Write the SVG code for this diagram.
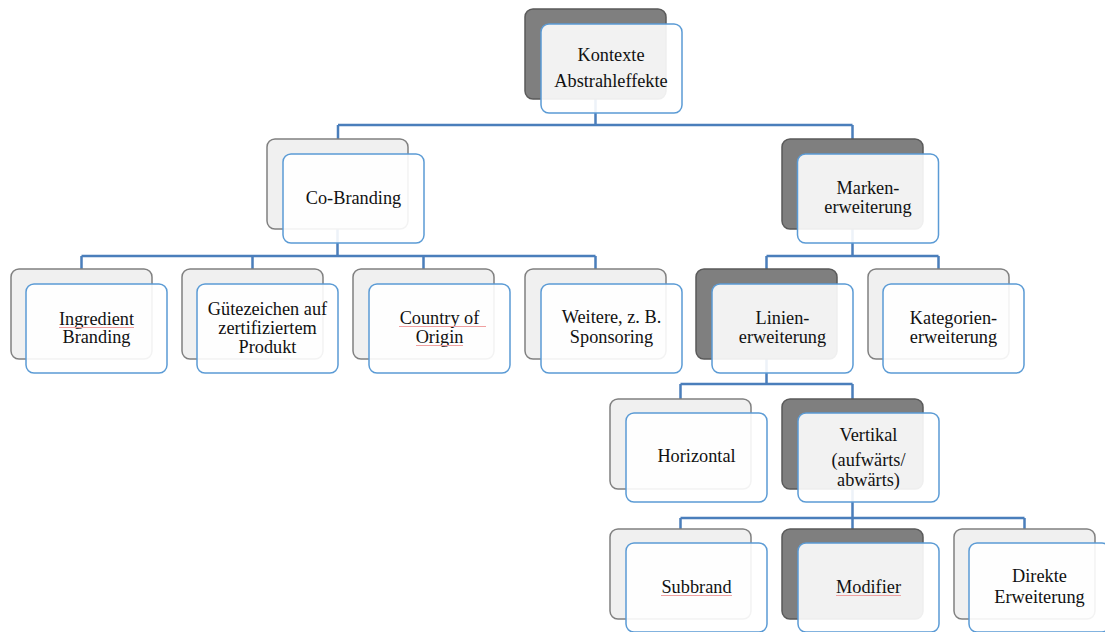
<svg xmlns="http://www.w3.org/2000/svg" width="1105" height="632" viewBox="0 0 1105 632">
  <style>
    .back-light { fill: #f0f0f0; stroke: #808080; stroke-width: 1.5; }
    .back-dark { fill: #7f7f7f; stroke: #5a5a5a; stroke-width: 1.5; }
    .front { fill: #ffffff; fill-opacity: 0.9; stroke: #5b9bd5; stroke-width: 1.5; }
    .conn { fill: none; stroke: #4a7ebb; stroke-width: 2.5; stroke-linejoin: miter; }
    .lbl { font-family: "Liberation Serif", "Times New Roman", serif; font-size: 18.3px; fill: #111111; text-anchor: middle; }
    .spell { stroke: #f0a0a0; stroke-width: 1; fill: none; }
  </style>
  <rect width="1105" height="632" fill="#ffffff"/>

  <!-- connectors -->
  <g id="connectors" class="conn">
    <path d="M595.5 99 V125 M338 125 H852.5 M338 125 V139 M852.5 125 V139"/>
    <path d="M337.5 229 V256 M81.5 256 H595.5 M81.5 256 V269 M252.5 256 V269 M423.5 256 V269 M595.5 256 V269"/>
    <path d="M852.5 229 V256 M766.5 256 H938.5 M766.5 256 V269 M938.5 256 V269"/>
    <path d="M766.5 359 V384 M680.5 384 H852.5 M680.5 384 V399 M852.5 384 V399"/>
    <path d="M852.5 489 V518 M680.5 518 H1024.5 M680.5 518 V529 M852.5 518 V529 M1024.5 518 V529"/>
  </g>

  <!-- root -->
  <g id="node-kontexte">
    <rect class="back-dark" x="525" y="9" width="141" height="90" rx="8"/>
    <rect class="front" x="541" y="24" width="141" height="89" rx="8"/>
    <text class="lbl" x="611" y="61">Kontexte</text>
    <text class="lbl" x="611" y="87">Abstrahleffekte</text>
  </g>

  <g id="node-cobranding">
    <rect class="back-light" x="267" y="139" width="141" height="90" rx="8"/>
    <rect class="front" x="283" y="154" width="141" height="89" rx="8"/>
    <text class="lbl" x="353.5" y="204">Co-Branding</text>
  </g>

  <g id="node-markenerweiterung">
    <rect class="back-dark" x="782" y="139" width="141" height="90" rx="8"/>
    <rect class="front" x="797.5" y="154" width="141" height="89" rx="8"/>
    <text class="lbl" x="868" y="194">Marken-</text>
    <text class="lbl" x="868" y="213">erweiterung</text>
  </g>

  <g id="node-ingredient">
    <rect class="back-light" x="11" y="269" width="141" height="90" rx="8"/>
    <rect class="front" x="26" y="284" width="141" height="89" rx="8"/>
    <text class="lbl" x="96.5" y="325">Ingredient</text>
    <text class="lbl" x="96.5" y="343">Branding</text>
    <path class="spell" d="M59 327.5 H134"/>
  </g>

  <g id="node-guetezeichen">
    <rect class="back-light" x="182" y="269" width="141" height="90" rx="8"/>
    <rect class="front" x="197" y="284" width="141" height="89" rx="8"/>
    <text class="lbl" x="267.5" y="315">Gütezeichen auf</text>
    <text class="lbl" x="267.5" y="334">zertifiziertem</text>
    <text class="lbl" x="267.5" y="353">Produkt</text>
  </g>

  <g id="node-country">
    <rect class="back-light" x="353" y="269" width="141" height="90" rx="8"/>
    <rect class="front" x="369" y="284" width="141" height="89" rx="8"/>
    <text class="lbl" x="439.5" y="324">Country of</text>
    <text class="lbl" x="439.5" y="343">Origin</text>
    <path class="spell" d="M399 326.5 H486 M416 345.5 H463"/>
  </g>

  <g id="node-weitere">
    <rect class="back-light" x="525" y="269" width="141" height="90" rx="8"/>
    <rect class="front" x="541" y="284" width="141" height="89" rx="8"/>
    <text class="lbl" x="611.5" y="323">Weitere, z. B.</text>
    <text class="lbl" x="611.5" y="343">Sponsoring</text>
  </g>

  <g id="node-linienerweiterung">
    <rect class="back-dark" x="696" y="269" width="141" height="90" rx="8"/>
    <rect class="front" x="712" y="284" width="141" height="89" rx="8"/>
    <text class="lbl" x="782.5" y="324">Linien-</text>
    <text class="lbl" x="782.5" y="343">erweiterung</text>
  </g>

  <g id="node-kategorienerweiterung">
    <rect class="back-light" x="868" y="269" width="141" height="90" rx="8"/>
    <rect class="front" x="883" y="284" width="141" height="89" rx="8"/>
    <text class="lbl" x="953.5" y="324">Kategorien-</text>
    <text class="lbl" x="953.5" y="343">erweiterung</text>
  </g>

  <g id="node-horizontal">
    <rect class="back-light" x="610" y="399" width="141" height="90" rx="8"/>
    <rect class="front" x="626" y="413" width="141" height="89" rx="8"/>
    <text class="lbl" x="696.5" y="462">Horizontal</text>
  </g>

  <g id="node-vertikal">
    <rect class="back-dark" x="782" y="399" width="141" height="90" rx="8"/>
    <rect class="front" x="798" y="413" width="141" height="89" rx="8"/>
    <text class="lbl" x="868.5" y="441">Vertikal</text>
    <text class="lbl" x="868.5" y="466">(aufwärts/</text>
    <text class="lbl" x="868.5" y="486">abwärts)</text>
  </g>

  <g id="node-subbrand">
    <rect class="back-light" x="610" y="529" width="141" height="90" rx="8"/>
    <rect class="front" x="626" y="543" width="141" height="89" rx="8"/>
    <text class="lbl" x="696.5" y="593">Subbrand</text>
    <path class="spell" d="M661 595.5 H732"/>
  </g>

  <g id="node-modifier">
    <rect class="back-dark" x="782" y="529" width="141" height="90" rx="8"/>
    <rect class="front" x="798" y="543" width="141" height="89" rx="8"/>
    <text class="lbl" x="868.5" y="593">Modifier</text>
    <path class="spell" d="M836 595.5 H901"/>
  </g>

  <g id="node-direkte">
    <rect class="back-light" x="954" y="529" width="141" height="90" rx="8"/>
    <rect class="front" x="969" y="543" width="141" height="89" rx="8"/>
    <text class="lbl" x="1039.5" y="582">Direkte</text>
    <text class="lbl" x="1039.5" y="603">Erweiterung</text>
  </g>
</svg>
